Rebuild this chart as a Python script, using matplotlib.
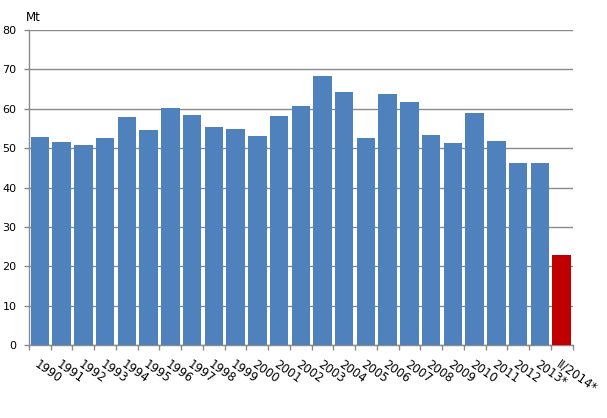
import matplotlib
matplotlib.use("Agg")
import matplotlib.pyplot as plt
import numpy as np

categories = ["1990", "1991", "1992", "1993", "1994", "1995", "1996", "1997",
              "1998", "1999", "2000", "2001", "2002", "2003", "2004", "2005",
              "2006", "2007", "2008", "2009", "2010", "2011", "2012", "2013*",
              "II/2014*"]
values = [52.8, 51.6, 50.8, 52.6, 57.9, 54.6, 60.2, 58.4, 55.4, 54.9, 53.1,
          58.2, 60.7, 68.3, 64.3, 52.6, 63.7, 61.7, 53.3, 51.3, 58.9, 51.8,
          46.2, 46.2, 22.9]
y_ticks = [0, 10, 20, 30, 40, 50, 60, 70, 80]
unit_label = "Mt"

blue = "#4F81BD"
red = "#C00000"
colors = [blue] * (len(values) - 1) + [red]

W, H = 607, 418
fig = plt.figure(figsize=(W / 100, H / 100), dpi=100)
ax = fig.add_axes([29 / W, 1 - 345 / H, (572.5 - 29) / W, (345 - 30) / H])

x = np.arange(len(categories))
ax.bar(x, values, width=0.85, color=colors, zorder=3)

ax.set_xlim(-0.5, len(categories) - 0.5)
ax.set_ylim(0, 80)
ax.set_yticks(y_ticks)
ax.yaxis.grid(True, color="#8a8a8a", linewidth=1.0, zorder=0)
ax.set_axisbelow(True)

for s in ["top", "right"]:
    ax.spines[s].set_visible(False)
for s in ["left", "bottom"]:
    ax.spines[s].set_color("#8a8a8a")
    ax.spines[s].set_linewidth(1.0)

ax.tick_params(axis="y", length=3.6, width=1.0, color="#8a8a8a", pad=5.5,
               labelsize=8, labelcolor="#000000")
ax.set_xticks(x)
ax.set_xticklabels(categories, rotation=-35, ha="left", va="top",
                   rotation_mode="anchor", fontsize=8.5)
ax.tick_params(axis="x", which="major", length=0, pad=9)
ax.set_xticks(np.arange(-0.5, len(categories), 1.0), minor=True)
ax.tick_params(axis="x", which="minor", length=3.6, width=1.0, color="#8a8a8a")

fig.text(26 / W, 1 - 21 / H, unit_label, ha="left", va="baseline", fontsize=8.5)

fig.savefig("out.png", dpi=100)
